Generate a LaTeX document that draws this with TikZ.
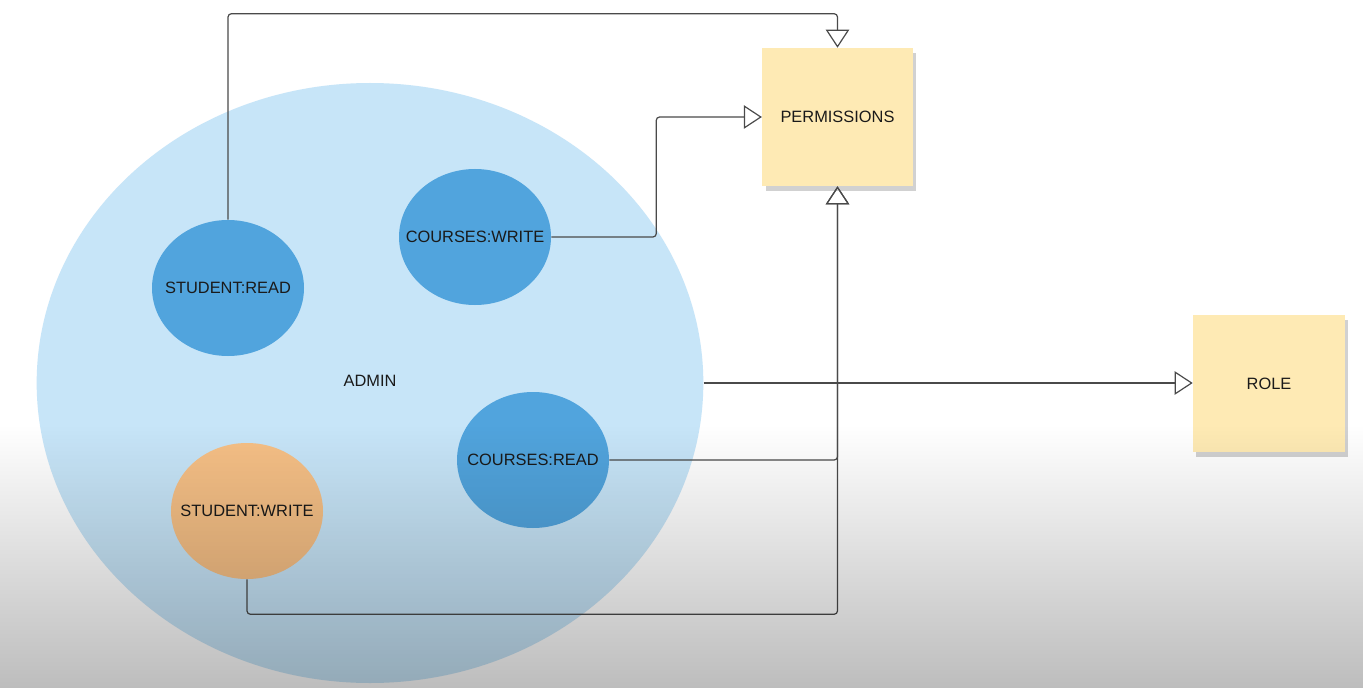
\documentclass[tikz,border=0pt]{standalone}
\usepackage{fontspec}
\setmainfont{Liberation Sans}
\usetikzlibrary{arrows.meta,shapes.geometric,shadows,fadings}
\definecolor{adminblue}{HTML}{C7E5F8}
\definecolor{permblue}{HTML}{51A4DD}
\definecolor{permorange}{HTML}{F6C086}
\definecolor{sticky}{HTML}{FEEAB4}
\definecolor{linegray}{HTML}{4A4A4A}
\definecolor{txt}{HTML}{1A1A1A}
\tikzfading[name=fadedown, top color=transparent!100, bottom color=transparent!74]
\tikzset{
  lbl/.style={text=txt, font=\fontsize{12.3}{15}\selectfont},
  permnode/.style={lbl, ellipse, inner sep=0pt, minimum width=114pt, minimum height=102pt},
  note/.style={lbl, rectangle, fill=sticky, inner sep=0pt,
    drop shadow={shadow xshift=2.5pt, shadow yshift=-3.5pt, opacity=0.18, fill=black}},
  conn/.style={draw=linegray, line width=0.9pt, rounded corners=2.5pt},
  tip/.style={-{Triangle[open, length=13.5pt, width=17.5pt, line width=0.9pt]}}
}
\newcommand{\zw}[1]{\makebox[0pt]{#1}}
\begin{document}
\begin{tikzpicture}[x=0.75pt, y=-0.75pt]
\useasboundingbox (0,0) rectangle (1363,688);
\fill[white] (0,0) rectangle (1363,688);
% big ADMIN ellipse
\node[lbl, ellipse, fill=adminblue, inner sep=0pt, minimum width=500pt, minimum height=450pt] (admin) at (370,383) {};
\node[lbl] (admintxt) at (370,381) {ADMIN};
% inner permission ellipses
\node[permnode, fill=permblue] (sr) at (228,288) {\zw{STUDENT:READ}};
\node[permnode, fill=permblue] (cw) at (475,237) {\zw{COURSES:WRITE}};
\node[permnode, fill=permblue] (cr) at (533,460) {\zw{COURSES:READ}};
\node[permnode, fill=permorange] (sw) at (247,511) {\zw{STUDENT:WRITE}};
% sticky notes
\node[note, minimum width=113pt, minimum height=103.5pt] (perm) at (837.5,117) {PERMISSIONS};
\node[note, minimum width=114pt, minimum height=102.75pt] (role) at (1269,383.5) {ROLE};
% connectors
\draw[conn, tip] (sr.north) -- ++(0,-206) -| (perm.north);
\draw[conn, tip] (cw.east) -- ++(105,0) |- (perm.west);
\draw[conn, tip] (cr.east) -| (perm.south);
\draw[conn, tip] (sw.south) -- ++(0,35) -| (perm.south);
\draw[conn, tip] (admin.east) -- (admin.east -| role.west);
% bottom darkening
\fill[black, path fading=fadedown] (0,425) rectangle (1363,688);
\end{tikzpicture}
\end{document}
